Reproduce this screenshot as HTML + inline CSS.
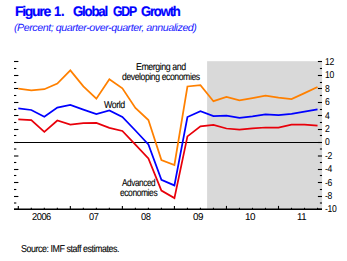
<!DOCTYPE html>
<html><head><meta charset="utf-8"><style>
html,body{margin:0;padding:0;background:#fff;width:347px;height:261px;overflow:hidden;position:relative}
div{position:absolute;font-family:"Liberation Sans",sans-serif;white-space:pre;line-height:1;text-rendering:geometricPrecision}
svg{position:absolute;left:0;top:0}
</style></head><body>
<svg width="347" height="261" viewBox="0 0 347 261">
<rect x="207.1" y="61.2" width="115" height="148.1" fill="#d9d9d9"/>
<g stroke="#000" stroke-width="1.1">
<line x1="14" y1="61.50" x2="18.4" y2="61.50"/><line x1="317.9" y1="61.50" x2="322" y2="61.50"/><line x1="14" y1="68.50" x2="16.3" y2="68.50"/><line x1="319.9" y1="68.50" x2="322" y2="68.50"/><line x1="14" y1="75.50" x2="18.4" y2="75.50"/><line x1="317.9" y1="75.50" x2="322" y2="75.50"/><line x1="14" y1="82.50" x2="16.3" y2="82.50"/><line x1="319.9" y1="82.50" x2="322" y2="82.50"/><line x1="14" y1="88.50" x2="18.4" y2="88.50"/><line x1="317.9" y1="88.50" x2="322" y2="88.50"/><line x1="14" y1="95.50" x2="16.3" y2="95.50"/><line x1="319.9" y1="95.50" x2="322" y2="95.50"/><line x1="14" y1="102.50" x2="18.4" y2="102.50"/><line x1="317.9" y1="102.50" x2="322" y2="102.50"/><line x1="14" y1="109.50" x2="16.3" y2="109.50"/><line x1="319.9" y1="109.50" x2="322" y2="109.50"/><line x1="14" y1="115.50" x2="18.4" y2="115.50"/><line x1="317.9" y1="115.50" x2="322" y2="115.50"/><line x1="14" y1="122.50" x2="16.3" y2="122.50"/><line x1="319.9" y1="122.50" x2="322" y2="122.50"/><line x1="14" y1="129.50" x2="18.4" y2="129.50"/><line x1="317.9" y1="129.50" x2="322" y2="129.50"/><line x1="14" y1="135.50" x2="16.3" y2="135.50"/><line x1="319.9" y1="135.50" x2="322" y2="135.50"/><line x1="14" y1="142.50" x2="18.4" y2="142.50"/><line x1="317.9" y1="142.50" x2="322" y2="142.50"/><line x1="14" y1="149.00" x2="16.3" y2="149.00"/><line x1="319.9" y1="149.00" x2="322" y2="149.00"/><line x1="14" y1="156.00" x2="18.4" y2="156.00"/><line x1="317.9" y1="156.00" x2="322" y2="156.00"/><line x1="14" y1="162.50" x2="16.3" y2="162.50"/><line x1="319.9" y1="162.50" x2="322" y2="162.50"/><line x1="14" y1="169.50" x2="18.4" y2="169.50"/><line x1="317.9" y1="169.50" x2="322" y2="169.50"/><line x1="14" y1="175.50" x2="16.3" y2="175.50"/><line x1="319.9" y1="175.50" x2="322" y2="175.50"/><line x1="14" y1="182.50" x2="18.4" y2="182.50"/><line x1="317.9" y1="182.50" x2="322" y2="182.50"/><line x1="14" y1="189.50" x2="16.3" y2="189.50"/><line x1="319.9" y1="189.50" x2="322" y2="189.50"/><line x1="14" y1="196.50" x2="18.4" y2="196.50"/><line x1="317.9" y1="196.50" x2="322" y2="196.50"/><line x1="14" y1="203.00" x2="16.3" y2="203.00"/><line x1="319.9" y1="203.00" x2="322" y2="203.00"/><line x1="14" y1="209.20" x2="18.4" y2="209.20"/><line x1="317.9" y1="209.20" x2="322" y2="209.20"/><line x1="18.30" y1="209.3" x2="18.30" y2="205.90"/><line x1="31.31" y1="209.3" x2="31.31" y2="207.80"/><line x1="44.32" y1="209.3" x2="44.32" y2="207.80"/><line x1="57.33" y1="209.3" x2="57.33" y2="207.80"/><line x1="70.34" y1="209.3" x2="70.34" y2="205.90"/><line x1="83.35" y1="209.3" x2="83.35" y2="207.80"/><line x1="96.36" y1="209.3" x2="96.36" y2="207.80"/><line x1="109.37" y1="209.3" x2="109.37" y2="207.80"/><line x1="122.38" y1="209.3" x2="122.38" y2="205.90"/><line x1="135.39" y1="209.3" x2="135.39" y2="207.80"/><line x1="148.40" y1="209.3" x2="148.40" y2="207.80"/><line x1="161.41" y1="209.3" x2="161.41" y2="207.80"/><line x1="174.42" y1="209.3" x2="174.42" y2="205.90"/><line x1="187.43" y1="209.3" x2="187.43" y2="207.80"/><line x1="200.44" y1="209.3" x2="200.44" y2="207.80"/><line x1="213.45" y1="209.3" x2="213.45" y2="207.80"/><line x1="226.46" y1="209.3" x2="226.46" y2="205.90"/><line x1="239.47" y1="209.3" x2="239.47" y2="207.80"/><line x1="252.48" y1="209.3" x2="252.48" y2="207.80"/><line x1="265.49" y1="209.3" x2="265.49" y2="207.80"/><line x1="278.50" y1="209.3" x2="278.50" y2="205.90"/><line x1="291.51" y1="209.3" x2="291.51" y2="207.80"/><line x1="304.52" y1="209.3" x2="304.52" y2="207.80"/><line x1="317.53" y1="209.3" x2="317.53" y2="207.80"/>
</g>
<line x1="14" y1="142.5" x2="322" y2="142.5" stroke="#000" stroke-width="1.15"/>
<line x1="14" y1="209.2" x2="322" y2="209.2" stroke="#000" stroke-width="1.4"/>
<g fill="none" stroke-width="1.75" stroke-linejoin="miter">
<polyline points="18.30,88.60 31.31,90.40 44.32,89.20 57.33,83.60 70.34,70.40 83.35,86.40 96.36,98.70 109.37,79.30 122.38,88.30 135.39,108.00 148.40,120.00 161.41,160.00 174.42,165.00 187.43,86.50 200.44,85.20 213.45,101.20 226.46,96.90 239.47,100.40 252.48,98.10 265.49,95.60 278.50,97.60 291.51,99.10 304.52,93.10 317.53,87.00" stroke="#ff8000"/>
<polyline points="18.30,108.30 31.31,110.00 44.32,116.80 57.33,107.60 70.34,105.00 83.35,109.60 96.36,114.10 109.37,110.40 122.38,117.00 135.39,130.50 148.40,144.40 161.41,179.90 174.42,185.40 187.43,117.00 200.44,111.20 213.45,116.00 226.46,115.60 239.47,117.90 252.48,116.30 265.49,114.40 278.50,115.10 291.51,113.80 304.52,111.60 317.53,109.30" stroke="#0000ff"/>
<polyline points="18.30,119.40 31.31,120.20 44.32,131.80 57.33,120.50 70.34,124.60 83.35,123.20 96.36,123.00 109.37,127.90 122.38,131.00 135.39,144.70 148.40,158.50 161.41,190.60 174.42,198.10 187.43,136.40 200.44,126.30 213.45,124.90 226.46,128.50 239.47,129.70 252.48,128.30 265.49,127.50 278.50,127.50 291.51,124.60 304.52,124.70 317.53,125.60" stroke="#e8000a"/>
</g>
</svg>
<div style="left:14.54px;top:5px;font-size:13.9px;font-weight:bold;color:#0000ff;letter-spacing:-1.3px;-webkit-text-stroke:0.2px #0000ff;transform:scaleX(1.0101);transform-origin:0 0;">Figure</div>
<div style="left:53.61px;top:5px;font-size:13.9px;font-weight:bold;color:#0000ff;letter-spacing:-0.2px;-webkit-text-stroke:0.2px #0000ff;transform:scaleX(0.9231);transform-origin:0 0;">1.</div>
<div style="left:73.02px;top:5px;font-size:13.9px;font-weight:bold;color:#0000ff;letter-spacing:-1.3px;-webkit-text-stroke:0.2px #0000ff;transform:scaleX(0.9589);transform-origin:0 0;">Global</div>
<div style="left:112.96px;top:5px;font-size:13.9px;font-weight:bold;color:#0000ff;letter-spacing:-1.3px;-webkit-text-stroke:0.2px #0000ff;transform:scaleX(0.8785);transform-origin:0 0;">GDP</div>
<div style="left:140.83px;top:5px;font-size:13.9px;font-weight:bold;color:#0000ff;letter-spacing:-1.3px;-webkit-text-stroke:0.2px #0000ff;transform:scaleX(0.9448);transform-origin:0 0;">Growth</div>
<div style="left:13.79px;top:24px;font-size:10.4px;font-style:italic;color:#2020ff;letter-spacing:-0.45px;transform:scaleX(1.0295);transform-origin:0 0;">(Percent; quarter-over-quarter, annualized)</div>
<div style="left:136.04px;top:63px;font-size:10px;color:#000;letter-spacing:-0.5px;-webkit-text-stroke:0.1px #000;transform:scaleX(0.8829);transform-origin:0 0;">Emerging and</div>
<div style="left:122.38px;top:73px;font-size:10px;color:#000;letter-spacing:-0.5px;-webkit-text-stroke:0.1px #000;transform:scaleX(0.8682);transform-origin:0 0;">developing economies</div>
<div style="left:104.10px;top:101px;font-size:10px;color:#000;letter-spacing:-0.5px;-webkit-text-stroke:0.1px #000;transform:scaleX(0.8809);transform-origin:0 0;">World</div>
<div style="left:121.60px;top:179px;font-size:10px;color:#000;letter-spacing:-0.5px;-webkit-text-stroke:0.1px #000;transform:scaleX(0.8222);transform-origin:0 0;">Advanced</div>
<div style="left:119.99px;top:189px;font-size:10px;color:#000;letter-spacing:-0.5px;-webkit-text-stroke:0.1px #000;transform:scaleX(0.8480);transform-origin:0 0;">economies</div>
<div style="left:31.64px;top:213px;font-size:10px;color:#000;letter-spacing:-0.5px;-webkit-text-stroke:0.05px #000;transform:scaleX(0.9300);transform-origin:0 0;">2006</div>
<div style="left:88.57px;top:213px;font-size:10px;color:#000;letter-spacing:-0.5px;-webkit-text-stroke:0.05px #000;transform:scaleX(0.9200);transform-origin:0 0;">07</div>
<div style="left:140.77px;top:213px;font-size:10px;color:#000;letter-spacing:-0.5px;-webkit-text-stroke:0.05px #000;transform:scaleX(0.9300);transform-origin:0 0;">08</div>
<div style="left:193.16px;top:213px;font-size:10px;color:#000;letter-spacing:-0.5px;-webkit-text-stroke:0.05px #000;transform:scaleX(0.9800);transform-origin:0 0;">09</div>
<div style="left:244.96px;top:213px;font-size:10px;color:#000;letter-spacing:-0.5px;-webkit-text-stroke:0.05px #000;transform:scaleX(0.9895);transform-origin:0 0;">10</div>
<div style="left:296.78px;top:213px;font-size:10px;color:#000;letter-spacing:-0.5px;-webkit-text-stroke:0.05px #000;transform:scaleX(0.9600);transform-origin:0 0;">11</div>
<div style="left:20.86px;top:245px;font-size:10px;color:#000;letter-spacing:-0.5px;-webkit-text-stroke:0.1px #000;transform:scaleX(0.8886);transform-origin:0 0;">Source: IMF staff estimates.</div>
<div style="left:325.20px;top:58px;font-size:10px;color:#000;letter-spacing:-0.4px;-webkit-text-stroke:0.05px #000;transform:scaleX(0.8600);transform-origin:0 0;">12</div>
<div style="left:325.20px;top:71px;font-size:10px;color:#000;letter-spacing:-0.4px;-webkit-text-stroke:0.05px #000;transform:scaleX(0.8600);transform-origin:0 0;">10</div>
<div style="left:325.20px;top:85px;font-size:10px;color:#000;letter-spacing:-0.4px;-webkit-text-stroke:0.05px #000;transform:scaleX(0.8600);transform-origin:0 0;">8</div>
<div style="left:325.20px;top:98px;font-size:10px;color:#000;letter-spacing:-0.4px;-webkit-text-stroke:0.05px #000;transform:scaleX(0.8600);transform-origin:0 0;">6</div>
<div style="left:325.20px;top:112px;font-size:10px;color:#000;letter-spacing:-0.4px;-webkit-text-stroke:0.05px #000;transform:scaleX(0.8600);transform-origin:0 0;">4</div>
<div style="left:325.20px;top:125px;font-size:10px;color:#000;letter-spacing:-0.4px;-webkit-text-stroke:0.05px #000;transform:scaleX(0.8600);transform-origin:0 0;">2</div>
<div style="left:325.20px;top:138px;font-size:10px;color:#000;letter-spacing:-0.4px;-webkit-text-stroke:0.05px #000;transform:scaleX(0.8600);transform-origin:0 0;">0</div>
<div style="left:325.20px;top:152px;font-size:10px;color:#000;letter-spacing:-0.4px;-webkit-text-stroke:0.05px #000;transform:scaleX(0.8600);transform-origin:0 0;">-2</div>
<div style="left:325.20px;top:165px;font-size:10px;color:#000;letter-spacing:-0.4px;-webkit-text-stroke:0.05px #000;transform:scaleX(0.8600);transform-origin:0 0;">-4</div>
<div style="left:325.20px;top:179px;font-size:10px;color:#000;letter-spacing:-0.4px;-webkit-text-stroke:0.05px #000;transform:scaleX(0.8600);transform-origin:0 0;">-6</div>
<div style="left:325.20px;top:192px;font-size:10px;color:#000;letter-spacing:-0.4px;-webkit-text-stroke:0.05px #000;transform:scaleX(0.8600);transform-origin:0 0;">-8</div>
<div style="left:325.20px;top:205px;font-size:10px;color:#000;letter-spacing:-0.4px;-webkit-text-stroke:0.05px #000;transform:scaleX(0.8600);transform-origin:0 0;">-10</div>
</body></html>
